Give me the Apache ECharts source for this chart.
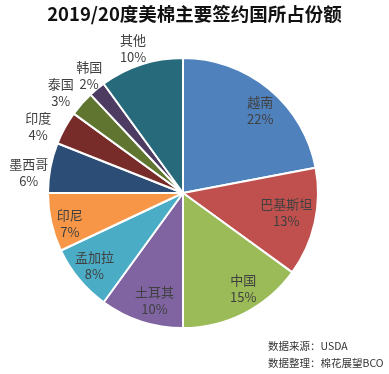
<!DOCTYPE html>
<html>
<head>
<meta charset="utf-8">
<script src="https://cdn.jsdelivr.net/npm/echarts@6/dist/echarts.min.js"></script>
<style>html,body{margin:0;padding:0;background:#fff;}#c{width:389px;height:374px;}</style>
</head>
<body>
<div id="c"></div>
<script>
var categories = ['越南','巴基斯坦','中国','土耳其','孟加拉','印尼','墨西哥','印度','泰国','韩国','其他'];
var shares = [22, 13, 15, 10, 8, 7, 6, 4, 3, 2, 10];
var colors = ['#4F81BD','#C0504D','#9BBB59','#8064A2','#4BACC6','#F79646','#2C4D75','#772C2A','#5F7530','#4D3B62','#276A7C'];
var insideLabels = ['越南','巴基斯坦','中国','土耳其','孟加拉','印尼'];
// small label nudges (px) to mimic the original's label placement
var labelNudge = {
  '越南':[4,6], '巴基斯坦':[-9,-6], '中国':[8,-7], '土耳其':[7,-2], '孟加拉':[0,-1], '印尼':[-1,5],
  '墨西哥':[-2,9], '印度':[-9,8], '泰国':[-6,2], '韩国':[5,2], '其他':[-2,3]
};

var center = [183, 193];
var labelFont = {color:'#404040', fontSize:13, lineHeight:17, fontFamily:'"Noto Sans CJK SC", sans-serif'};

function mk(showFn, transparent){
  return categories.map(function(c,i){
    return {
      name:c, value:shares[i],
      itemStyle: transparent ? {color:'rgba(0,0,0,0)', borderWidth:0} : {color:colors[i]},
      label:{show: showFn(c), offset: labelNudge[c]}
    };
  });
}

var chart = echarts.init(document.getElementById('c'), null, {renderer:'canvas'});
chart.setOption({
  backgroundColor:'#fff',
  animation:false,
  title:[{
    text:'2019/20度美棉主要签约国所占份额',
    left:'center', top:0,
    textStyle:{fontSize:18.5, fontWeight:'bold', color:'#111', fontFamily:'"Noto Sans CJK SC", sans-serif'}
  },{
    text:'数据来源：USDA\n数据整理：棉花展望BCO',
    left:263, top:333,
    textStyle:{fontSize:10.5, fontWeight:'normal', color:'#333', lineHeight:17, fontFamily:'"Noto Sans CJK SC", monospace'}
  }],
  series:[{
    type:'pie', center:center, radius:[0,135], startAngle:90, clockwise:true,
    silent:true,
    itemStyle:{borderColor:'#fff', borderWidth:2},
    label:{show:false}, labelLine:{show:false},
    data: mk(function(){return false;}, false)
  },{
    type:'pie', center:center, radius:[88,136], startAngle:90, clockwise:true,
    silent:true, z:3, avoidLabelOverlap:false,
    labelLayout:{hideOverlap:false},
    label:Object.assign({position:'inside', formatter:'{b}\n{c}%'}, labelFont),
    labelLine:{show:false},
    data: mk(function(c){return insideLabels.indexOf(c)>=0;}, true)
  },{
    type:'pie', center:center, radius:[134,170], startAngle:90, clockwise:true,
    silent:true, z:3, avoidLabelOverlap:false,
    labelLayout:{hideOverlap:false},
    label:Object.assign({position:'inside', formatter:'{b}\n{c}%'}, labelFont),
    labelLine:{show:false},
    data: mk(function(c){return insideLabels.indexOf(c)<0;}, true)
  }]
});
</script>
</body>
</html>
